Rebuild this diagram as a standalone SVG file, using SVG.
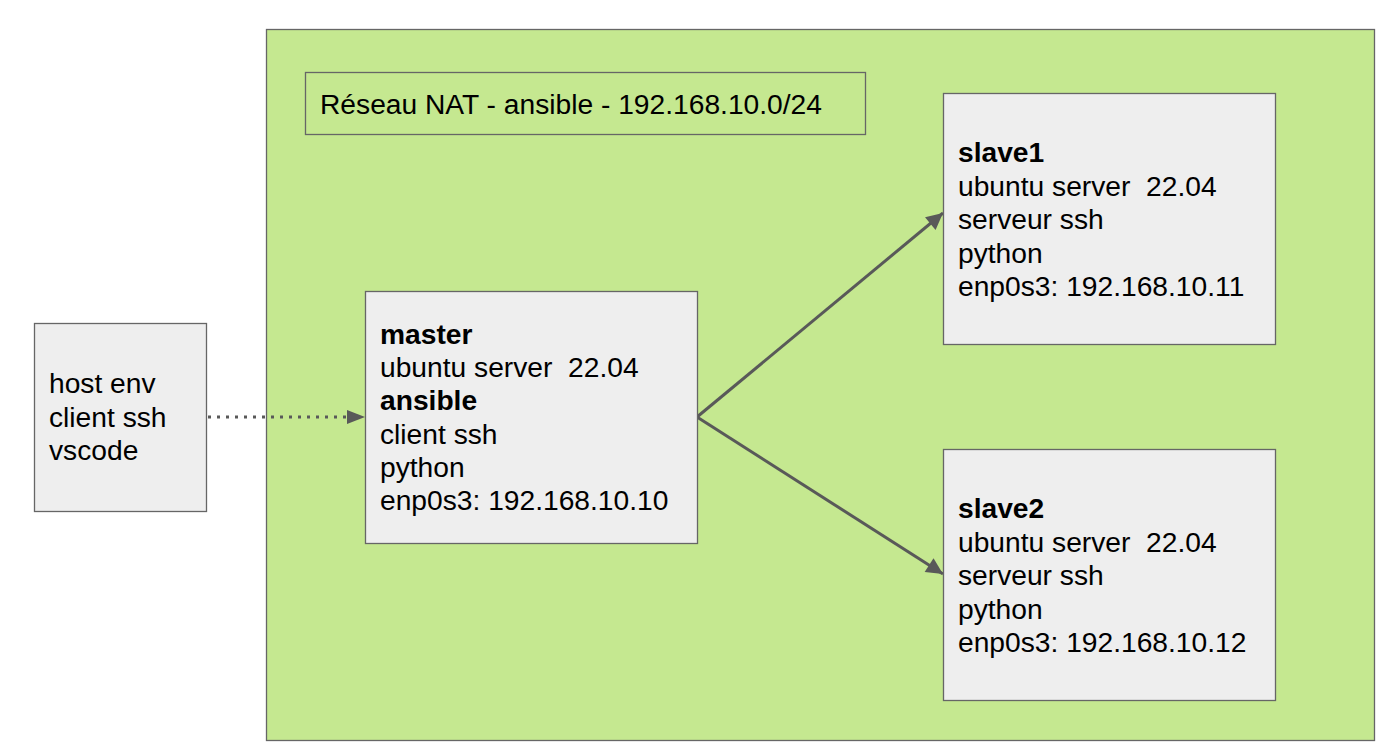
<svg xmlns="http://www.w3.org/2000/svg" width="1392" height="752" viewBox="0 0 1392 752">
<style>
  .box { fill: #eeeeee; stroke: #666666; stroke-width: 1.3; }
  .t { font-family: "Liberation Sans", Arial, sans-serif; font-size: 28.2px; fill: #000000; white-space: pre; }
  .b { font-weight: bold; }
  .edge { stroke: #595959; stroke-width: 3; fill: none; }
  .dot { stroke: #595959; stroke-width: 3; fill: none; stroke-dasharray: 3 6; }
</style>
<defs>
  <marker id="ah" viewBox="0 0 10 10" refX="10" refY="5" markerWidth="6" markerHeight="5.5" markerUnits="strokeWidth" orient="auto">
    <path d="M0,0 L10,5 L0,10 z" fill="#595959"/>
  </marker>
</defs>
<rect width="1392" height="752" fill="#ffffff"/>
<g id="network">
  <rect x="266.5" y="29.5" width="1108" height="711" fill="#c5e890" stroke="#666666" stroke-width="1.3"/>
</g>
<g id="title">
  <rect x="305.5" y="72.5" width="560" height="62" fill="#c5e890" stroke="#666666" stroke-width="1.3"/>
  <text class="t" x="320" y="114">Réseau NAT - ansible - 192.168.10.0/24</text>
</g>
<g id="connectors">
  <line class="dot" x1="208" y1="417" x2="348" y2="417"/>
  <path d="M347,410 L365,417 L347,424 z" fill="#595959"/>
  <line class="edge" x1="697" y1="417" x2="943" y2="213" marker-end="url(#ah)"/>
  <line class="edge" x1="697" y1="417" x2="943" y2="574" marker-end="url(#ah)"/>
</g>
<g id="host">
  <rect class="box" x="34.5" y="323.5" width="172" height="188"/>
  <text class="t" x="49" y="393">host env</text>
  <text class="t" x="49" y="426.5">client ssh</text>
  <text class="t" x="49" y="460">vscode</text>
</g>
<g id="master">
  <rect class="box" x="365.5" y="291.5" width="332" height="252"/>
  <text class="t b" x="380" y="344">master</text>
  <text class="t" x="380" y="377" xml:space="preserve">ubuntu server  22.04</text>
  <text class="t b" x="380" y="410">ansible</text>
  <text class="t" x="380" y="443.5">client ssh</text>
  <text class="t" x="380" y="477">python</text>
  <text class="t" x="380" y="510">enp0s3: 192.168.10.10</text>
</g>
<g id="slave1">
  <rect class="box" x="943.5" y="93.5" width="332" height="251"/>
  <text class="t b" x="958" y="162">slave1</text>
  <text class="t" x="958" y="195.5" xml:space="preserve">ubuntu server  22.04</text>
  <text class="t" x="958" y="229">serveur ssh</text>
  <text class="t" x="958" y="262.5">python</text>
  <text class="t" x="958" y="296">enp0s3: 192.168.10.11</text>
</g>
<g id="slave2">
  <rect class="box" x="943.5" y="449.5" width="332" height="251"/>
  <text class="t b" x="958" y="518">slave2</text>
  <text class="t" x="958" y="551.5" xml:space="preserve">ubuntu server  22.04</text>
  <text class="t" x="958" y="585">serveur ssh</text>
  <text class="t" x="958" y="618.5">python</text>
  <text class="t" x="958" y="652">enp0s3: 192.168.10.12</text>
</g>
</svg>
